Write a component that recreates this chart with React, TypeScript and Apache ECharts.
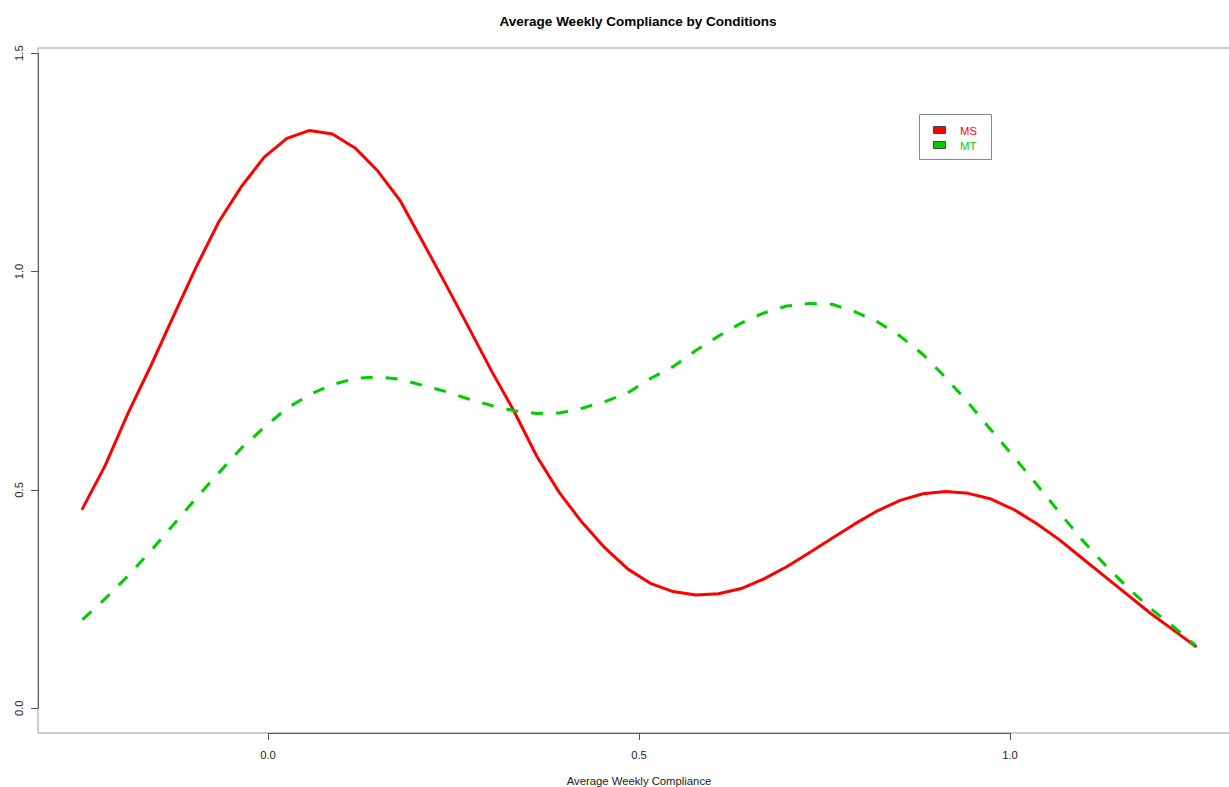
import React, { useEffect, useRef } from "react";
import * as echarts from "echarts";

// density grid (x) and the two density curves
const xGrid = [
  -0.25, -0.2194, -0.1888, -0.1582, -0.1276, -0.0969, -0.0663, -0.0357, -0.0051, 0.0255,
  0.0561, 0.0867, 0.1173, 0.148, 0.1786, 0.2092, 0.2398, 0.2704, 0.301, 0.3316,
  0.3622, 0.3929, 0.4235, 0.4541, 0.4847, 0.5153, 0.5459, 0.5765, 0.6071, 0.6378,
  0.6684, 0.699, 0.7296, 0.7602, 0.7908, 0.8214, 0.852, 0.8827, 0.9133, 0.9439,
  0.9745, 1.0051, 1.0357, 1.0663, 1.0969, 1.1276, 1.1582, 1.1888, 1.2194, 1.25,
];

const msDensity = [
  0.457, 0.556, 0.675, 0.783, 0.897, 1.01, 1.114, 1.195, 1.262, 1.305,
  1.323, 1.315, 1.283, 1.23, 1.161, 1.066, 0.97, 0.872, 0.773, 0.68,
  0.577, 0.493, 0.425, 0.367, 0.319, 0.286, 0.267, 0.259, 0.262, 0.274,
  0.296, 0.324, 0.356, 0.389, 0.422, 0.452, 0.476, 0.491, 0.496, 0.492,
  0.479, 0.455, 0.423, 0.386, 0.344, 0.302, 0.26, 0.218, 0.18, 0.142,
];

const mtDensity = [
  0.203, 0.251, 0.303, 0.36, 0.42, 0.481, 0.539, 0.596, 0.643, 0.687,
  0.718, 0.741, 0.755, 0.759, 0.753, 0.739, 0.725, 0.708, 0.693, 0.681,
  0.675, 0.676, 0.687, 0.702, 0.722, 0.755, 0.782, 0.819, 0.852, 0.882,
  0.905, 0.921, 0.927, 0.925, 0.908, 0.885, 0.852, 0.81, 0.757, 0.699,
  0.637, 0.576, 0.513, 0.449, 0.386, 0.329, 0.277, 0.229, 0.188, 0.144,
];

const xTicks = [0, 0.5, 1];
const yTicks = [0, 0.5, 1, 1.5];
const seriesNames = ["MS", "MT"];
const seriesColors = ["#FF0000", "#00CD00"];
const titleText = "Average Weekly Compliance by Conditions";
const xTitle = "Average Weekly Compliance";

const FONT = '"Liberation Sans", Arial, Helvetica, sans-serif';
const LABEL_SIZE = 11.3;

export default function App() {
  const ref = useRef<HTMLDivElement>(null);

  useEffect(() => {
    if (!ref.current) return;
    const chart = echarts.init(ref.current, null, { renderer: "svg" });
    const XMIN = -0.31;
    const XMAX = 1.31;
    const YMIN = -0.0568;
    const YMAX = 1.5118;

    const toPairs = (ys: number[]) => xGrid.map((x, i) => [x, ys[i]]);

    chart.setOption({
      animation: false,
      backgroundColor: "#ffffff",
      textStyle: { fontFamily: FONT },
      grid: {
        left: 38,
        top: 48,
        width: 1202,
        height: 685,
        show: true,
        borderColor: "#9a9a9a",
        borderWidth: 1,
        containLabel: false,
        outerBoundsMode: "none",
      },
      xAxis: {
        type: "value",
        min: XMIN,
        max: XMAX,
        splitLine: { show: false },
        axisLine: { show: false, onZero: false },
        axisTick: {
          show: true,
          length: 7,
          customValues: xTicks,
          lineStyle: { color: "#555" },
        },
        axisLabel: {
          customValues: xTicks,
          formatter: (v: number) => v.toFixed(1),
          margin: 16,
          fontSize: LABEL_SIZE,
          color: "#222",
          fontFamily: FONT,
        },
        name: xTitle,
        nameLocation: "middle",
        nameGap: 42,
        nameTextStyle: { fontSize: LABEL_SIZE, color: "#222", fontFamily: FONT },
      },
      yAxis: {
        type: "value",
        min: YMIN,
        max: YMAX,
        splitLine: { show: false },
        axisLine: { show: false, onZero: false },
        axisTick: {
          show: true,
          length: 7,
          customValues: yTicks,
          lineStyle: { color: "#555" },
        },
        axisLabel: {
          customValues: yTicks,
          formatter: (v: number) => v.toFixed(1),
          rotate: 90,
          margin: 14,
          fontSize: LABEL_SIZE,
          color: "#222",
          fontFamily: FONT,
        },
      },
      graphic: [
        {
          type: "text",
          x: 638,
          y: 21,
          style: {
            text: titleText,
            font: `bold 13.5px ${FONT}`,
            fill: "#000",
            textAlign: "center",
            textVerticalAlign: "middle",
          },
        },
        {
          type: "group",
          children: [
            {
              type: "rect",
              shape: { x: 919.5, y: 114.5, width: 72, height: 45 },
              style: { fill: "#fff", stroke: "#888", lineWidth: 1 },
            },
            {
              type: "rect",
              shape: { x: 933.5, y: 126.5, width: 12, height: 7 },
              style: { fill: seriesColors[0], stroke: "#444", lineWidth: 1 },
            },
            {
              type: "rect",
              shape: { x: 933.5, y: 141.5, width: 12, height: 7 },
              style: { fill: seriesColors[1], stroke: "#444", lineWidth: 1 },
            },
            {
              type: "text",
              x: 960,
              y: 130.5,
              style: {
                text: seriesNames[0],
                font: `${LABEL_SIZE}px ${FONT}`,
                fill: seriesColors[0],
                textVerticalAlign: "middle",
              },
            },
            {
              type: "text",
              x: 960,
              y: 145.5,
              style: {
                text: seriesNames[1],
                font: `${LABEL_SIZE}px ${FONT}`,
                fill: seriesColors[1],
                textVerticalAlign: "middle",
              },
            },
          ],
        },
      ],
      series: [
        {
          name: seriesNames[0],
          type: "line",
          data: toPairs(msDensity),
          showSymbol: false,
          smooth: false,
          lineStyle: { color: seriesColors[0], width: 3, cap: "round", join: "round" },
          z: 3,
          markLine: {
            silent: true,
            symbol: "none",
            label: { show: false },
            lineStyle: { color: "#555", width: 1, type: "solid" },
            data: [
              [{ coord: [xTicks[0], YMIN] }, { coord: [xTicks[xTicks.length - 1], YMIN] }],
              [{ coord: [XMIN, yTicks[0]] }, { coord: [XMIN, yTicks[yTicks.length - 1]] }],
            ],
          },
        },
        {
          name: seriesNames[1],
          type: "line",
          data: toPairs(mtDensity),
          showSymbol: false,
          smooth: false,
          lineStyle: { color: seriesColors[1], width: 3, type: [12, 13], cap: "butt" },
          z: 4,
        },
      ],
    });

    return () => chart.dispose();
  }, []);

  return (
    <div
      ref={ref}
      style={{ position: "absolute", left: 0, top: 0, width: 1229, height: 787 }}
    />
  );
}
